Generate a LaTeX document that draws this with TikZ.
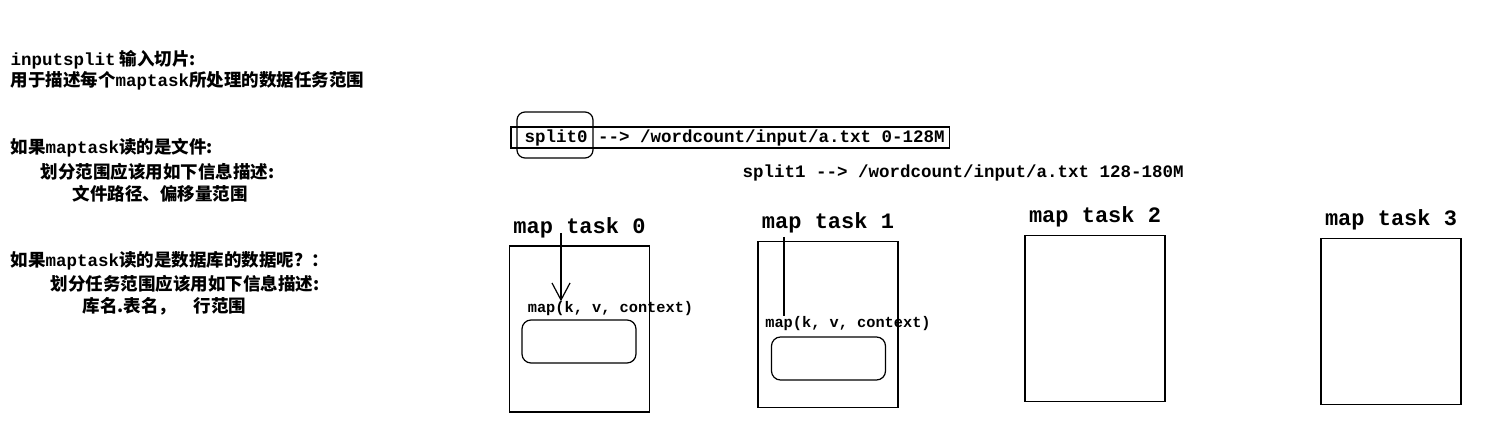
\documentclass[tikz,border=0pt]{standalone}
\usepackage{fontspec}
\setmainfont{Noto Sans CJK SC}
\setmonofont{Liberation Mono}
\usepackage{tikz}
\usetikzlibrary{positioning}
\usetikzlibrary{calc}
\usetikzlibrary{arrows.meta}
\newcommand\lat[1]{{\ttfamily #1}}

\begin{document}
\begin{tikzpicture}[x=1pt,y=-1pt,line width=1.2pt,
  note/.style={anchor=west, inner sep=0, font=\fontsize{17.5}{19}\selectfont\bfseries},
  tasklabel/.style={inner sep=0, font=\ttfamily\bfseries\fontsize{22}{24}\selectfont},
  taskbox/.style={draw, minimum width=140, minimum height=166, inner sep=0},
  slot/.style={draw, rounded corners=9, minimum width=114, minimum height=43, inner sep=0},
  call/.style={inner sep=0, font=\ttfamily\bfseries\fontsize{15.3}{17}\selectfont},
  splittext/.style={anchor=west, inner sep=0, font=\ttfamily\bfseries\fontsize{17.5}{19}\selectfont}]
\useasboundingbox (0,0) rectangle (1489,446);

% left notes
\node[note] (n1) at (10,60) {\lat{inputsplit} 输入切片:};
\node[note] (n2) at (10,81) {用于描述每个\lat{maptask}所处理的数据任务范围};
\node[note] (n3) at (10,148) {如果\lat{maptask}读的是文件:};
\node[note] (n4) at (40,172) {划分范围应该用如下信息描述:};
\node[note] (n5) at (72,194) {文件路径、偏移量范围};
\node[note] (n6) at (10,261) {如果\lat{maptask}读的是数据库的数据呢？：};
\node[note] (n7) at (50,284) {划分任务范围应该用如下信息描述:};
\node[note] (n8) at (82,306) {库名.表名，\hspace{1em}行范围};

% splits
\node[splittext] (s0) at (524,137.5) {split0 -{}-> /wordcount/input/a.txt 0-128M};
\draw ($(s0.west)+(-13,-10.5)$) rectangle ($(s0.east)+(4,10.5)$);
\draw[rounded corners=8] (517,112) rectangle (593,158);
\node[splittext] (s1) at (742,173) {split1 -{}-> /wordcount/input/a.txt 128-180M};

% map tasks
\node[taskbox] (t0) at (579.5,329) {};
\node[taskbox] (t1) at (828,324.5) {};
\node[taskbox] (t2) at (1095,318.5) {};
\node[taskbox] (t3) at (1391,321.5) {};
\node[tasklabel, above=7pt of t0] (l0) {map task 0};
\node[tasklabel, above=7pt of t1] (l1) {map task 1};
\node[tasklabel, above=7pt of t2] (l2) {map task 2};
\node[tasklabel, above=7pt of t3] (l3) {map task 3};

\node[call] (c0) at (610.5,309) {map(k, v, context)};
\node[call] (c1) at (848,324) {map(k, v, context)};
\node[slot] (r0) at (579,341.5) {};
\node[slot] (r1) at (828.5,358.5) {};

\coordinate (a0) at (561,233);
\coordinate (a1) at (784,237);
\draw[-{Straight Barb[length=17pt,width=18pt]}] (a0) -- (a0 |- c0.north);
\draw (a1) -- (a1 |- c1.north);

\end{tikzpicture}
\end{document}
